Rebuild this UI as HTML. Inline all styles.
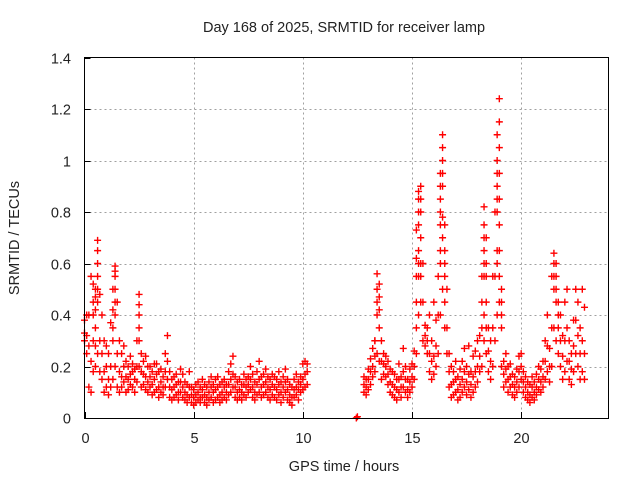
<!DOCTYPE html>
<html><head><meta charset="utf-8"><style>
body{margin:0;background:#fff;}
svg{display:block;font-family:"Liberation Sans",sans-serif;}
</style></head><body>
<svg id="chart" width="640" height="480" viewBox="0 0 640 480">
<rect x="0" y="0" width="640" height="480" fill="#fff"/>
<text x="344" y="32" font-size="14.5" text-anchor="middle" fill="#222">Day 168 of 2025, SRMTID for receiver lamp</text>
<g id="grid"></g>
<g id="axes"></g>
<g id="marks"></g>
<rect x="84.5" y="57.5" width="524" height="361" fill="none" stroke="#000" stroke-width="1"/>
<text x="344" y="471" font-size="14.5" text-anchor="middle" fill="#222">GPS time / hours</text>
<text transform="translate(19,238) rotate(-90)" font-size="14.5" text-anchor="middle" fill="#222">SRMTID / TECUs</text>
</svg>
<script>
const xTicks=[0,5,10,15,20];
const yTicks=[0,0.2,0.4,0.6,0.8,1,1.2,1.4];
const yTickLabels=["0","0.2","0.4","0.6","0.8","1","1.2","1.4"];
const hoursA=[0.0,0.1,0.2,0.3,0.4,0.5,0.6,0.7,0.8,0.9,1.0,1.1,1.2,1.3,1.4,1.5,1.6,1.7,1.8,1.9,2.0,2.1,2.2,2.3,2.4,2.5,2.6,2.7,2.8,2.9,3.0,3.1,3.2,3.3,3.4,3.5,3.6,3.7,3.8,3.9,4.0,4.1,4.2,4.3,4.4,4.5,4.6,4.7,4.8,4.9,5.0,5.1,5.2,5.3,5.4,5.5,5.6,5.7,5.8,5.9,6.0,6.1,6.2,6.3,6.4,6.5,6.6,6.7,6.8,6.9,7.0,7.1,7.2,7.3,7.4,7.5,7.6,7.7,7.8,7.9,8.0,8.1,8.2,8.3,8.4,8.5,8.6,8.7,8.8,8.9,9.0,9.1,9.2,9.3,9.4,9.5,9.6,9.7,9.8,9.9,10.0,10.1,10.2];
const loA=[.30,.25,.12,.10,.18,.20,.25,.18,.15,.10,.12,.09,.12,.15,.20,.12,.10,.12,.14,.10,.11,.13,.12,.10,.14,.20,.12,.13,.11,.10,.12,.09,.10,.11,.08,.10,.09,.12,.15,.08,.07,.08,.09,.07,.10,.08,.07,.06,.08,.06,.05,.06,.07,.06,.08,.06,.05,.07,.08,.06,.07,.08,.06,.07,.08,.07,.09,.10,.12,.08,.07,.08,.07,.09,.08,.10,.11,.08,.07,.09,.10,.08,.09,.10,.08,.07,.09,.08,.07,.09,.06,.08,.10,.07,.06,.05,.08,.09,.07,.10,.11,.12,.13];
const midA=[.33,.32,.28,.22,.30,.35,.45,.30,.25,.18,.20,.15,.20,.30,.40,.25,.18,.16,.20,.16,.15,.17,.18,.15,.20,.30,.18,.17,.16,.14,.16,.13,.15,.17,.12,.14,.12,.18,.22,.12,.11,.12,.13,.10,.14,.12,.10,.09,.12,.09,.08,.09,.10,.08,.11,.09,.08,.10,.12,.10,.11,.12,.09,.10,.12,.10,.13,.15,.17,.12,.10,.11,.10,.13,.12,.13,.15,.12,.10,.13,.15,.12,.13,.14,.12,.11,.13,.12,.11,.13,.10,.12,.14,.11,.09,.08,.11,.12,.11,.13,.15,.17,.18];
const hiA=[.38,.40,.40,.55,.52,.50,.69,.48,.40,.30,.28,.25,.37,.50,.59,.45,.30,.25,.28,.22,.20,.24,.21,.19,.30,.48,.25,.22,.24,.20,.20,.18,.21,.21,.18,.19,.16,.25,.32,.18,.15,.16,.17,.14,.19,.17,.14,.13,.18,.12,.11,.13,.14,.12,.15,.13,.12,.14,.16,.13,.15,.16,.13,.14,.15,.13,.18,.21,.24,.16,.14,.15,.13,.17,.15,.16,.20,.17,.14,.18,.22,.16,.17,.19,.16,.15,.17,.16,.15,.18,.14,.16,.19,.15,.13,.12,.15,.17,.14,.16,.21,.22,.21];
const hoursB=[12.8,12.9,13.0,13.1,13.2,13.3,13.4,13.5,13.6,13.7,13.8,13.9,14.0,14.1,14.2,14.3,14.4,14.5,14.6,14.7,14.8,14.9,15.0,15.1,15.2,15.3,15.4,15.5,15.6,15.7,15.8,15.9,16.0,16.1,16.2,16.3,16.4,16.5,16.6,16.7,16.8,16.9,17.0,17.1,17.2,17.3,17.4,17.5,17.6,17.7,17.8,17.9,18.0,18.1,18.2,18.3,18.4,18.5,18.6,18.7,18.8,18.9,19.0,19.1,19.2,19.3,19.4,19.5,19.6,19.7,19.8,19.9,20.0,20.1,20.2,20.3,20.4,20.5,20.6,20.7,20.8,20.9,21.0,21.1,21.2,21.3,21.4,21.5,21.6,21.7,21.8,21.9,22.0,22.1,22.2,22.3,22.4,22.5,22.6,22.7,22.8,22.9];
const loB=[.10,.09,.11,.13,.16,.18,.25,.22,.15,.17,.16,.13,.10,.09,.08,.07,.10,.08,.12,.10,.08,.10,.12,.15,.25,.40,.45,.30,.28,.25,.18,.15,.17,.20,.25,.40,.50,.35,.25,.12,.08,.09,.10,.07,.08,.10,.12,.09,.11,.08,.10,.12,.14,.18,.20,.30,.25,.18,.15,.20,.30,.40,.45,.20,.12,.14,.10,.12,.09,.08,.10,.12,.15,.10,.08,.07,.06,.08,.07,.09,.11,.10,.12,.15,.18,.14,.20,.35,.30,.25,.20,.15,.18,.22,.15,.13,.18,.25,.20,.15,.18,.15];
const midB=[.13,.12,.15,.18,.20,.24,.40,.35,.22,.21,.20,.17,.14,.13,.12,.11,.15,.12,.18,.15,.11,.14,.16,.20,.45,.65,.70,.45,.32,.30,.25,.22,.24,.28,.40,.75,.90,.55,.35,.18,.13,.14,.15,.11,.13,.15,.18,.14,.17,.13,.16,.18,.20,.24,.35,.55,.45,.26,.22,.35,.55,.80,.75,.35,.17,.19,.15,.16,.13,.12,.14,.18,.20,.14,.12,.10,.09,.12,.10,.12,.15,.14,.16,.22,.28,.20,.35,.50,.45,.35,.30,.24,.30,.35,.22,.19,.28,.38,.32,.25,.30,.25];
const hiB=[.16,.15,.19,.23,.27,.30,.56,.52,.30,.25,.24,.22,.19,.18,.17,.15,.21,.16,.27,.20,.15,.19,.21,.26,.73,.88,.90,.60,.36,.35,.40,.30,.45,.38,.55,.95,1.10,.75,.50,.25,.20,.18,.22,.16,.19,.22,.27,.20,.28,.18,.24,.26,.30,.32,.55,.82,.70,.35,.30,.55,.80,1.10,1.24,.50,.22,.25,.20,.21,.17,.16,.19,.24,.25,.18,.16,.14,.13,.16,.14,.17,.20,.19,.22,.30,.40,.27,.55,.64,.60,.45,.40,.32,.45,.50,.30,.25,.38,.50,.45,.35,.50,.43];
const spikeHours=[0.4,0.4,0.5,0.5,0.5,0.6,0.6,0.6,0.6,1.3,1.3,1.4,1.4,1.4,1.4,2.5,2.5,2.5,13.3,13.4,13.4,13.5,13.5,15.2,15.2,15.2,15.3,15.3,15.3,15.3,15.3,15.4,15.4,15.4,15.4,16.3,16.3,16.3,16.3,16.3,16.4,16.4,16.4,16.4,16.4,16.5,16.5,16.5,18.2,18.3,18.3,18.3,18.3,18.3,18.4,18.4,18.4,18.9,18.9,18.9,18.9,18.9,18.9,19.0,19.0,19.0,19.0,19.0,19.0,19.1,19.1,21.5,21.5,21.6,21.6,21.7];
const spikeVals=[.40,.45,.42,.47,.28,.55,.60,.65,.50,.35,.42,.45,.50,.55,.57,.35,.40,.44,.30,.45,.50,.42,.47,.35,.55,.62,.75,.80,.85,.55,.60,.80,.85,.55,.60,.80,.85,.90,.60,.65,.95,1.00,1.05,.70,.78,.60,.65,.45,.45,.60,.65,.70,.75,.40,.55,.60,.35,.85,.90,.95,1.00,.60,.65,.85,.95,1.05,1.15,.55,.65,.40,.45,.55,.60,.50,.55,.40];
const gapHours=[12.45,12.5];
const gapVals=[0.0,0.005];

const X0=84.5,X1=608.5,Y0=418,Y1=57.5,XMAX=24,YMAX=1.4;
const sx=h=>X0+(X1-X0)*h/XMAX;
const sy=v=>Y0-(Y0-Y1)*v/YMAX;
const NS="http://www.w3.org/2000/svg";
const grid=document.getElementById('grid'),axes=document.getElementById('axes'),marks=document.getElementById('marks');
function mk(tag,attrs,parent){const e=document.createElementNS(NS,tag);for(const k in attrs)e.setAttribute(k,attrs[k]);parent.appendChild(e);return e;}
xTicks.forEach(t=>{
  const x=Math.round(sx(t))+0.5;
  if(t>0){const g=mk('line',{x1:x,x2:x,y1:Y1,y2:Y0,stroke:'#a0a0a0','stroke-dasharray':'2,3'},grid);
  
  }
  const tk=mk('line',{x1:x,x2:x,y1:Y0,y2:Y0-6,stroke:'#000'},axes);
  
  
  const l=mk('text',{x:x,y:443,'font-size':14.5,'text-anchor':'middle',fill:'#222'},axes);l.textContent=String(t);
  
  
});
yTicks.forEach((t,i)=>{
  const y=Math.round(sy(t))+0.5;
  if(t>0&&t<YMAX){const g=mk('line',{x1:X0,x2:X1,y1:y,y2:y,stroke:'#a0a0a0','stroke-dasharray':'2,3'},grid);
  
  }
  const tk=mk('line',{x1:X0,x2:X0+6,y1:y,y2:y,stroke:'#000'},axes);
  
  
  const l=mk('text',{x:71,y:y+5,'font-size':14.5,'text-anchor':'end',fill:'#222'},axes);l.textContent=yTickLabels[i];
  
  
});
function plus(h,v){
  const x=sx(h),y=sy(v);
  const p=mk('path',{d:`M${x-3.5},${y}H${x+3.5}M${x},${y-3.5}V${y+3.5}`,stroke:'#ff0000','stroke-width':1.4,fill:'none'},marks);
  
  
}
[[hoursA,loA,midA,hiA],[hoursB,loB,midB,hiB]].forEach(([hs,lo,mid,hi])=>{
  hs.forEach((h,i)=>{plus(h,lo[i]);plus(h,mid[i]);plus(h,hi[i]);});
});
spikeHours.forEach((h,i)=>plus(h,spikeVals[i]));
gapHours.forEach((h,i)=>plus(h,gapVals[i]));
</script>
</body></html>
